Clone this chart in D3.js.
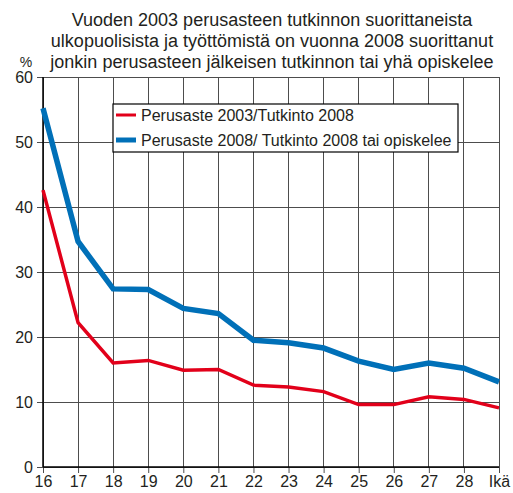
<!DOCTYPE html>
<html>
<head>
<meta charset="utf-8">
<script src="https://cdn.jsdelivr.net/npm/d3@7"></script>
<style>
  body { margin: 0; background: #fff; }
  svg text { font-family: "Liberation Sans", Arial, sans-serif; fill: #231f20; }
</style>
</head>
<body>
<div id="chart"></div>
<script>
// ---------------- data
const ages = ["16", "17", "18", "19", "20", "21", "22", "23", "24", "25", "26", "27", "28", "Ikä"]
const perusaste2003 = [42.6, 22.2, 16.0, 16.4, 14.9, 15.0, 12.6, 12.3, 11.6, 9.6, 9.6, 10.8, 10.4, 9.1]
const perusaste2008 = [55.2, 34.7, 27.4, 27.3, 24.4, 23.6, 19.5, 19.1, 18.3, 16.3, 15.0, 16.0, 15.2, 13.1]
const yTicks = [0, 10, 20, 30, 40, 50, 60]
const titleLines = [
  "Vuoden 2003 perusasteen tutkinnon suorittaneista",
  "ulkopuolisista ja työttömistä on vuonna 2008 suorittanut",
  "jonkin perusasteen jälkeisen tutkinnon tai yhä opiskelee"
]
const seriesNames = ["Perusaste 2003/Tutkinto 2008", "Perusaste 2008/ Tutkinto 2008 tai opiskelee"]

const series = [
  { name: seriesNames[0], values: perusaste2003, color: "#e2001a", width: 3.5 },
  { name: seriesNames[1], values: perusaste2008, color: "#0070b8", width: 5.5 }
]

// ---------------- dimensions
const dims = { width: 513, height: 493, left: 43, right: 14, top: 77, bottom: 26 }
dims.ctrWidth = dims.width - dims.left - dims.right
dims.ctrHeight = dims.height - dims.top - dims.bottom

const svg = d3.select("#chart").append("svg")
  .attr("width", dims.width)
  .attr("height", dims.height)

const ctr = svg.append("g")
  .attr("transform", `translate(${dims.left},${dims.top})`)

// ---------------- scales
const xScale = d3.scalePoint()
  .domain(ages)
  .range([0, dims.ctrWidth])

const yScale = d3.scaleLinear()
  .domain([0, 60])
  .range([dims.ctrHeight, 0])

// ---------------- grid
ctr.append("g")
  .selectAll("line")
  .data(ages)
  .join("line")
  .attr("x1", d => xScale(d)).attr("x2", d => xScale(d))
  .attr("y1", 0).attr("y2", dims.ctrHeight)
  .attr("stroke", "#4d4d4d")
  .attr("stroke-width", 1)
  .attr("shape-rendering", "crispEdges")

ctr.append("g")
  .selectAll("line")
  .data(yTicks)
  .join("line")
  .attr("x1", 0).attr("x2", dims.ctrWidth)
  .attr("y1", d => yScale(d)).attr("y2", d => yScale(d))
  .attr("stroke", "#4d4d4d")
  .attr("stroke-width", 1)
  .attr("shape-rendering", "crispEdges")

// ---------------- axes
const yAxis = d3.axisLeft(yScale)
  .tickValues(yTicks)
  .tickSize(6)
  .tickPadding(4)

ctr.append("g")
  .call(yAxis)
  .call(g => g.select(".domain").remove())
  .call(g => g.selectAll(".tick line").attr("stroke", "#4d4d4d"))
  .call(g => g.selectAll(".tick text").style("font-size", "16px").style("font-family", "Liberation Sans, Arial, sans-serif").attr("fill", "#231f20"))

const xAxis = d3.axisBottom(xScale)
  .tickSize(6)
  .tickPadding(3)

ctr.append("g")
  .attr("transform", `translate(0,${dims.ctrHeight})`)
  .call(xAxis)
  .call(g => g.select(".domain").remove())
  .call(g => g.selectAll(".tick line").attr("stroke", "#4d4d4d"))
  .call(g => g.selectAll(".tick text").style("font-size", "16px").style("font-family", "Liberation Sans, Arial, sans-serif").attr("fill", "#231f20"))

// black left and bottom axis lines
ctr.append("line")
  .attr("x1", 0).attr("x2", 0).attr("y1", 0).attr("y2", dims.ctrHeight)
  .attr("stroke", "#000").attr("stroke-width", 1.5)
ctr.append("line")
  .attr("x1", 0).attr("x2", dims.ctrWidth).attr("y1", dims.ctrHeight).attr("y2", dims.ctrHeight)
  .attr("stroke", "#000").attr("stroke-width", 1.5)

// ---------------- lines
const lineGenerator = d3.line()
  .x((d, i) => xScale(ages[i]))
  .y(d => yScale(d))

ctr.selectAll(".series")
  .data(series)
  .join("path")
  .classed("series", true)
  .attr("d", d => lineGenerator(d.values))
  .attr("fill", "none")
  .attr("stroke", d => d.color)
  .attr("stroke-width", d => d.width)
  .attr("stroke-linejoin", "miter")

// ---------------- legend
const legend = svg.append("g")
  .attr("transform", "translate(113,104)")

legend.append("rect")
  .attr("width", 345).attr("height", 48)
  .attr("fill", "#fff")
  .attr("stroke", "#000")
  .attr("stroke-width", 1.2)

const legendItem = legend.selectAll(".item")
  .data(series)
  .join("g")
  .classed("item", true)
  .attr("transform", (d, i) => `translate(0,${11 + i * 25})`)

legendItem.append("line")
  .attr("x1", 3).attr("x2", 23)
  .attr("y1", 0).attr("y2", 0)
  .attr("stroke", d => d.color)
  .attr("stroke-width", d => d.width - 0.5)

legendItem.append("text")
  .attr("x", 28)
  .attr("y", 5.5)
  .style("font-size", "16px")
  .text(d => d.name)

// ---------------- title
svg.append("g")
  .selectAll("text")
  .data(titleLines)
  .join("text")
  .attr("x", 272)
  .attr("y", (d, i) => 26 + i * 21)
  .attr("text-anchor", "middle")
  .style("font-size", "18px")
  .text(d => d)

svg.append("text")
  .attr("x", 26)
  .attr("y", 67)
  .attr("text-anchor", "middle")
  .style("font-size", "14px")
  .text("%")
</script>
</body>
</html>
